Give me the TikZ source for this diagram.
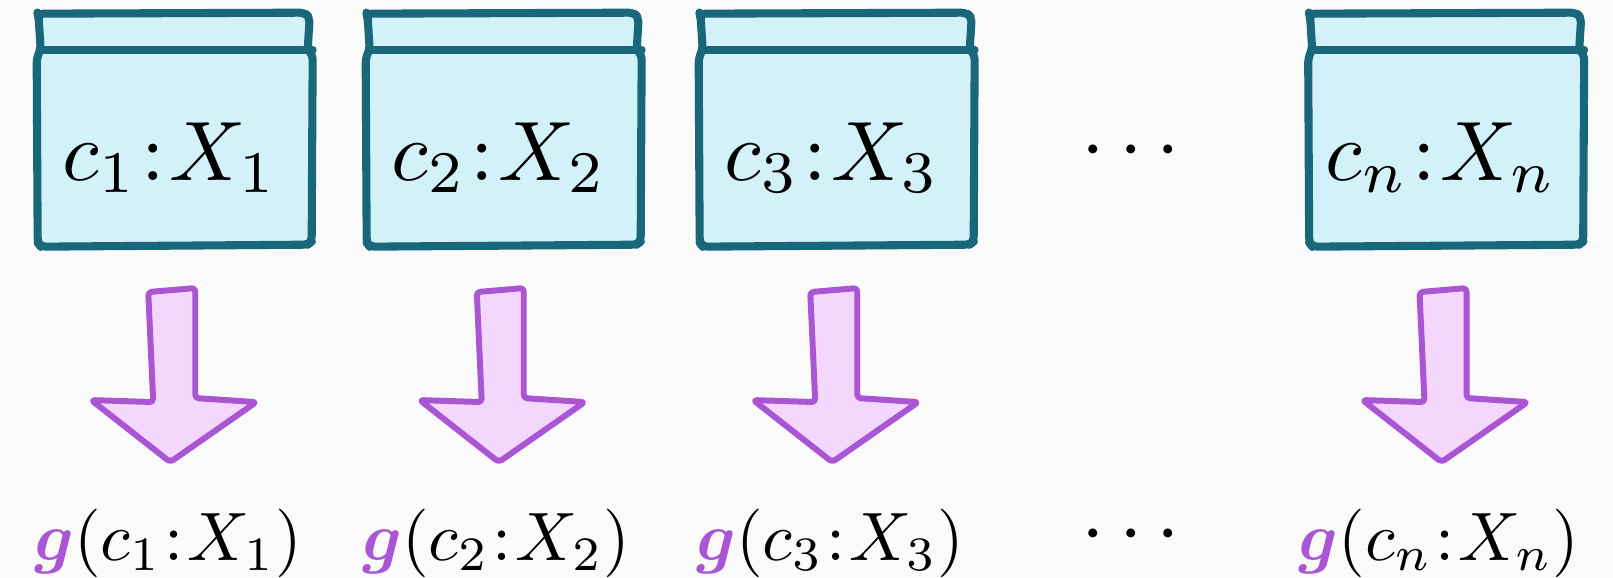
\documentclass[tikz,border=0pt]{standalone}
\usepackage{amsmath,amssymb,bm}
\usepackage{xcolor}
\usepackage{tikz}
\usetikzlibrary{calc}

\definecolor{frameteal}{HTML}{18677A}
\definecolor{framefill}{HTML}{D2F1F8}
\definecolor{arrowpurple}{HTML}{AA55D3}
\definecolor{arrowfill}{HTML}{F3D7FD}
\definecolor{paper}{HTML}{FAFAFA}

\tikzset{
  boxbody/.style={minimum width=5.54cm,minimum height=4.76cm,inner sep=0pt},
  boxline/.style={draw=frameteal,line width=4.6pt,line join=round,line cap=round,rounded corners=3pt},
  boxtext/.style={anchor=base,inner sep=0pt,scale=4.8},
  result/.style={anchor=base,inner sep=0.5pt,scale=3.9},
  fatarrow/.style={draw=arrowpurple,fill=arrowfill,line width=3.4pt,line join=round,line cap=round,rounded corners=2pt}
}

% sketchy frame with a header strip, drawn round a box node
\newcommand{\sketchframe}[1]{%
  \begin{scope}[shift={(#1.north west)}]
    \path[boxline,fill=framefill] (2,4) -- (269,3) -- (274,8) -- (272,40) -- (277,45) -- (276,232)
      -- (272,235) -- (5,237) -- (2,233) -- (1,48) -- (5,40) -- (3,8) -- cycle;
    \draw[boxline] (5,40) -- (277,40);
  \end{scope}}

% block arrow round a midpoint
\newcommand{\blockarrow}[1]{%
  \draw[fatarrow,shift={(#1)}] (-23,-84) -- (24,-88) -- (24,22) -- (85,26) -- (-1,86)
    -- (-80,24) -- (-18,26) -- cycle;}

\begin{document}
\begin{tikzpicture}[x=0.02cm,y=-0.02cm]
        \fill[paper] (0,0) rectangle (1613,578);
        \useasboundingbox (0,0) rectangle (1613,578);
        % Boxes
        \node[boxbody] (b1) at (174.5,129) {};
        \node[boxbody] (b2) at (503.5,129) {};
        \node[boxbody] (b3) at (836.5,129) {};
        \node[boxbody] (bn) at (1446,129) {};
        \sketchframe{b1}
        \sketchframe{b2}
        \sketchframe{b3}
        \sketchframe{bn}
        \node[boxtext] (t1) at (170,180) {$c_1\mkern1mu{:}\mkern1mu X_1$};
        \node[boxtext] (t2) at (499,180) {$c_2\mkern1mu{:}\mkern1mu X_2$};
        \node[boxtext] (t3) at (832,180) {$c_3\mkern1mu{:}\mkern1mu X_3$};
        \node[boxtext] (tn) at (1441,180) {$c_n\mkern1mu{:}\mkern1mu X_n$};
        \node[boxtext] (dots1) at (1138,170) {$\cdots$};
        % Results
        \node[result] (g1) at (168,560) {$\color{arrowpurple}\bm{g}\color{black}(c_1\mkern1mu{:}\mkern1mu X_1)$};
        \node[result] (g2) at (496,560) {$\color{arrowpurple}\bm{g}\color{black}(c_2\mkern1mu{:}\mkern1mu X_2)$};
        \node[result] (g3) at (830,560) {$\color{arrowpurple}\bm{g}\color{black}(c_3\mkern1mu{:}\mkern1mu X_3)$};
        \node[result] (gn) at (1439,560) {$\color{arrowpurple}\bm{g}\color{black}(c_n\mkern1mu{:}\mkern1mu X_n)$};
        \node[boxtext] (dots2) at (1138,554) {$\cdots$};
        % Arrows
        \path (b1.south) -- (g1.north) coordinate[pos=.5] (m1);
        \path (b2.south) -- (g2.north) coordinate[pos=.5] (m2);
        \path (b3.south) -- (g3.north) coordinate[pos=.5] (m3);
        \path (bn.south) -- (gn.north) coordinate[pos=.5] (mn);
        \blockarrow{m1}
        \blockarrow{m2}
        \blockarrow{m3}
        \blockarrow{mn}
\end{tikzpicture}
\end{document}
